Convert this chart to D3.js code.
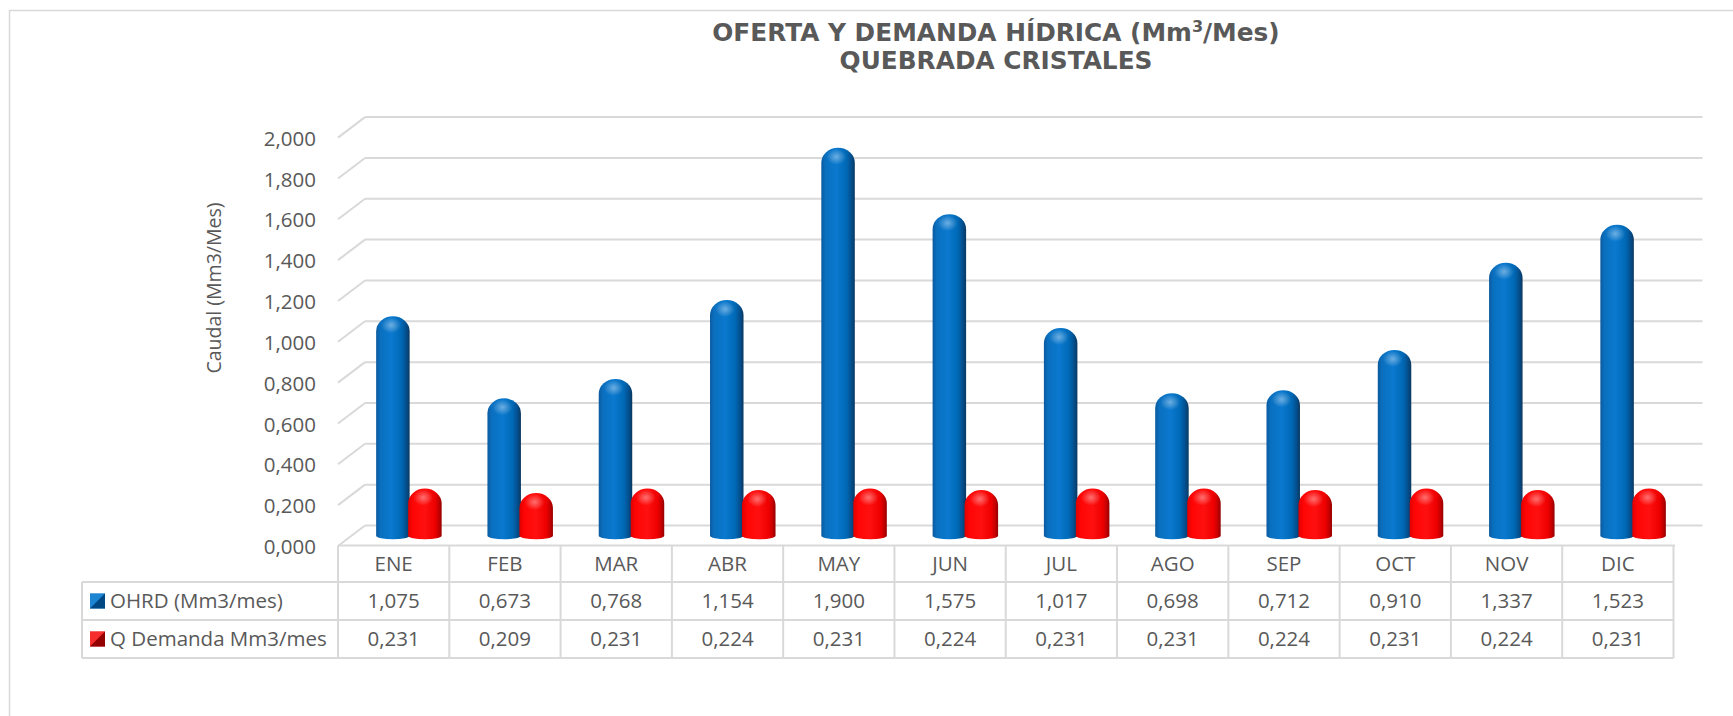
<!DOCTYPE html>
<html>
<head>
<meta charset="utf-8">
<script src="https://cdn.jsdelivr.net/npm/d3@7"></script>
<style>
  body { margin: 0; background: #fff; }
  svg { display: block; }
</style>
</head>
<body>
<div id="chart"></div>
<script>
// data
const months = ["ENE", "FEB", "MAR", "ABR", "MAY", "JUN", "JUL", "AGO", "SEP", "OCT", "NOV", "DIC"];
const ohrd = [1.075, 0.673, 0.768, 1.154, 1.900, 1.575, 1.017, 0.698, 0.712, 0.910, 1.337, 1.523];
const demanda = [0.231, 0.209, 0.231, 0.224, 0.231, 0.224, 0.231, 0.231, 0.224, 0.231, 0.224, 0.231];
const yTicks = [0, 0.2, 0.4, 0.6, 0.8, 1.0, 1.2, 1.4, 1.6, 1.8, 2.0];
const seriesNames = ["OHRD (Mm3/mes)", "Q Demanda Mm3/mes"];

const width = 1733, height = 716;
const depth = {dx: 27, dy: 20.5};
const grey = "#595959", lineCol = "#d9d9d9";
const fmt = v => d3.format(".3f")(v).replace(".", ",");

const svg = d3.select("#chart")
  .append("svg")
    .attr("width", width)
    .attr("height", height)
    .attr("viewBox", [0, 0, width, height]);

// gradients for the cylinders
const defs = svg.append("defs");
const addGrad = (id, stops) => {
  const g = defs.append("linearGradient").attr("id", id)
    .attr("x1", 0).attr("x2", 1).attr("y1", 0).attr("y2", 0);
  stops.forEach(([o, c]) => g.append("stop").attr("offset", o).attr("stop-color", c));
};
addGrad("blueBody", [[0, "#0b5a9e"], [0.12, "#0a6fbe"], [0.45, "#0a79cf"], [0.75, "#0069b6"], [0.9, "#044e8c"], [1, "#0a3860"]]);
addGrad("redBody", [[0, "#e00000"], [0.15, "#ff0505"], [0.5, "#ff1010"], [0.8, "#ee0000"], [0.92, "#c20000"], [1, "#920000"]]);
const hl = defs.append("radialGradient").attr("id", "hl");
hl.append("stop").attr("offset", 0).attr("stop-color", "#fff").attr("stop-opacity", 0.4);
hl.append("stop").attr("offset", 1).attr("stop-color", "#fff").attr("stop-opacity", 0);

// chart frame
svg.append("rect")
  .attr("x", 9.5).attr("y", 10.5)
  .attr("width", 2000).attr("height", 2000)
  .attr("fill", "none").attr("stroke", lineCol).attr("stroke-width", 1.5);

// title
const title = svg.append("text")
  .attr("text-anchor", "middle")
  .attr("font-family", "DejaVu Sans")
  .attr("font-weight", "bold")
  .attr("font-size", 24.8)
  .attr("fill", grey);
const t1 = title.append("tspan").attr("x", 996).attr("y", 41);
t1.append("tspan").text("OFERTA Y DEMANDA HÍDRICA (Mm");
t1.append("tspan").attr("font-size", 16).attr("dy", -9).text("3");
t1.append("tspan").attr("dy", 9).text("/Mes)");
title.append("tspan").attr("x", 996).attr("y", 69).text("QUEBRADA CRISTALES");

// scales
const xScale = d3.scaleBand()
  .domain(months)
  .range([338, 1673.5]);

const yScale = d3.scaleLinear()   // back wall
  .domain([0, 2])
  .range([525.5, 117.1]);

const x0 = xScale.range()[0], x1 = xScale.range()[1];

// back wall gridlines + side wall slants
const grid = svg.append("g").attr("stroke", lineCol).attr("stroke-width", 2).attr("fill", "none");
grid.selectAll("line.back")
  .data(yTicks)
  .join("line")
    .attr("class", "back")
    .attr("x1", x0 + depth.dx).attr("x2", 1702.5)
    .attr("y1", d => yScale(d)).attr("y2", d => yScale(d));
grid.selectAll("line.side")
  .data(yTicks)
  .join("line")
    .attr("class", "side")
    .attr("x1", x0).attr("y1", d => yScale(d) + depth.dy)
    .attr("x2", x0 + depth.dx).attr("y2", d => yScale(d));

// y axis labels
svg.append("g")
  .attr("font-family", "Open Sans")
  .attr("font-size", 20.5)
  .attr("fill", grey)
  .attr("text-anchor", "end")
  .selectAll("text")
  .data(yTicks)
  .join("text")
    .attr("x", 316)
    .attr("y", d => yScale(d) + depth.dy + 1)
    .attr("dy", "0.35em")
    .text(fmt);

svg.append("text")
  .attr("transform", "translate(221,288) rotate(-90)")
  .attr("text-anchor", "middle")
  .attr("font-family", "Open Sans")
  .attr("font-size", 19.5)
  .attr("fill", grey)
  .text("Caudal (Mm3/Mes)");

// cylinder shape
const cyl = (x, w, top, base) => {
  const r = w / 2, capRy = Math.min(15, (base - top) / 2), baseRy = 3.5;
  return `M${x},${base} L${x},${top + capRy} A${r},${capRy} 0 0 1 ${x + w},${top + capRy} ` +
    `L${x + w},${base} A${r},${baseRy} 0 0 1 ${x},${base} Z`;
};

const barW = 33.5;
const mid = depth.dy / 2;
const series = [
  {values: ohrd, fill: "url(#blueBody)", off: -17.5},
  {values: demanda, fill: "url(#redBody)", off: 14.5}
];

series.forEach(s => {
  const g = svg.append("g");
  const cx = (d, i) => xScale(months[i]) + xScale.bandwidth() / 2 + s.off;
  g.selectAll("path")
    .data(s.values)
    .join("path")
      .attr("d", (d, i) => cyl(cx(d, i), barW, yScale(d) + mid, yScale(0) + mid))
      .attr("fill", s.fill);
  g.selectAll("ellipse")
    .data(s.values)
    .join("ellipse")
      .attr("cx", (d, i) => cx(d, i) + barW * 0.45)
      .attr("cy", d => yScale(d) + mid + 9)
      .attr("rx", 10).attr("ry", 8)
      .attr("fill", "url(#hl)");
});

// data table
const rowY = [545.5, 582, 620, 658];
const table = svg.append("g").attr("stroke", lineCol).attr("stroke-width", 2);
table.append("line").attr("x1", x0).attr("x2", 1675).attr("y1", rowY[0]).attr("y2", rowY[0]);
table.selectAll("line.row")
  .data(rowY.slice(1))
  .join("line")
    .attr("class", "row")
    .attr("x1", 82).attr("x2", x1)
    .attr("y1", d => d).attr("y2", d => d);
table.selectAll("line.col")
  .data(months.map(m => xScale(m)).concat([x1]))
  .join("line")
    .attr("class", "col")
    .attr("x1", d => d).attr("x2", d => d)
    .attr("y1", rowY[0]).attr("y2", rowY[3]);
table.append("line").attr("x1", 82).attr("x2", 82).attr("y1", rowY[1]).attr("y2", rowY[3]);

const txt = svg.append("g")
  .attr("font-family", "Open Sans")
  .attr("font-size", 20.5)
  .attr("fill", grey)
  .attr("text-anchor", "middle");

txt.selectAll("text.month")
  .data(months)
  .join("text")
    .attr("class", "month")
    .attr("x", d => xScale(d) + xScale.bandwidth() / 2)
    .attr("y", 564)
    .attr("dy", "0.35em")
    .text(d => d);

[ohrd, demanda].forEach((vals, r) => {
  txt.selectAll(`text.v${r}`)
    .data(vals)
    .join("text")
      .attr("class", `v${r}`)
      .attr("x", (d, i) => xScale(months[i]) + xScale.bandwidth() / 2)
      .attr("y", (rowY[r + 1] + rowY[r + 2]) / 2)
      .attr("dy", "0.35em")
      .text(fmt);
});

// legend keys with bevel
const keyCols = [["#0070c0", "#2b8fdc", "#003f73"], ["#e00000", "#ff4040", "#800000"]];
seriesNames.forEach((name, r) => {
  const cy = (rowY[r + 1] + rowY[r + 2]) / 2;
  const k = svg.append("g").attr("transform", `translate(90,${cy - 7.5})`);
  const [base, light, dark] = keyCols[r];
  k.append("rect").attr("width", 15).attr("height", 15).attr("fill", base);
  k.append("path").attr("d", "M0,0 L15,0 L7.5,7.5 Z M0,0 L0,15 L7.5,7.5 Z").attr("fill", light).attr("opacity", 0.7);
  k.append("path").attr("d", "M15,0 L15,15 L7.5,7.5 Z M0,15 L15,15 L7.5,7.5 Z").attr("fill", dark).attr("opacity", 0.8);
  svg.append("text")
    .attr("x", 110).attr("y", cy)
    .attr("dy", "0.35em")
    .attr("font-family", "Open Sans")
    .attr("font-size", 20.5)
    .attr("fill", grey)
    .text(name);
});
</script>
</body>
</html>
